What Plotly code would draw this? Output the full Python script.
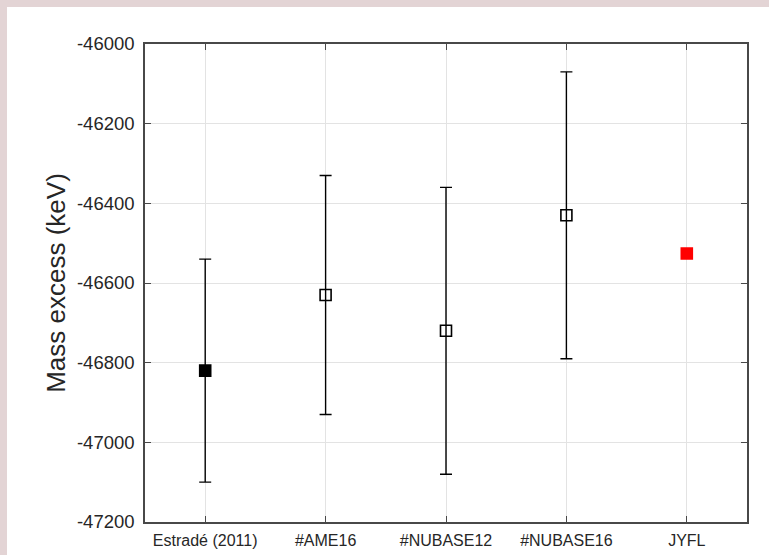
import plotly.graph_objects as go

categories = ["Estradé (2011)", "#AME16", "#NUBASE12", "#NUBASE16", "JYFL"]
mass_excess = [-46820, -46630, -46720, -46430, -46526]
uncertainty = [280, 300, 360, 360, 0]
symbols = ["square", "square-open", "square-open", "square-open", "square"]
colors = ["#000000", "#000000", "#000000", "#000000", "#ff0000"]
y_ticks = [-47200, -47000, -46800, -46600, -46400, -46200, -46000]
y_tick_labels = ["-47200", "-47000", "-46800", "-46600", "-46400", "-46200", "-46000"]

W, H = 769, 555
L, R, T, B = 145, 22, 44, 33
pw, ph = W - L - R, H - T - B

fig = go.Figure()
for i, cat in enumerate(categories):
    err = uncertainty[i]
    fig.add_trace(go.Scatter(
        x=[i], y=[mass_excess[i]], mode="markers", name=cat,
        marker=dict(symbol=symbols[i], size=11, color=colors[i],
                    line=dict(width=1.6, color=colors[i])),
        error_y=dict(type="data", array=[err], visible=err > 0,
                     color="#000000", thickness=1.4, width=6),
        showlegend=False,
    ))

# pinkish page border (left and top) behind a white page
fig.add_shape(type="rect", xref="paper", yref="paper",
              x0=(7 - L) / pw, x1=(W - L) / pw + 0.01,
              y0=-(B + 5) / ph, y1=(ph + T - 7) / ph,
              fillcolor="white", line=dict(width=0), layer="below")

axis_col = "#484848"
fig.update_layout(
    width=W, height=H,
    margin=dict(l=L, r=R, t=T, b=B, autoexpand=False),
    paper_bgcolor="#e3d4d5",
    plot_bgcolor="white",
    font=dict(family="Liberation Sans, Arial, sans-serif", color="#262626"),
    xaxis=dict(
        range=[-0.5, 4.5], tickmode="array",
        tickvals=list(range(len(categories))), ticktext=categories,
        showgrid=True, gridcolor="#e3e3e3", gridwidth=1,
        showline=True, linecolor=axis_col, linewidth=1.5, mirror="ticks",
        ticks="inside", ticklen=6, tickcolor=axis_col, tickwidth=1.2,
        tickfont=dict(size=16), ticklabelstandoff=3,
        zeroline=False, automargin=False,
    ),
    yaxis=dict(
        range=[-47200, -46000], tickmode="array",
        tickvals=y_ticks, ticktext=y_tick_labels,
        showgrid=True, gridcolor="#e3e3e3", gridwidth=1,
        showline=True, linecolor=axis_col, linewidth=1.5, mirror="ticks",
        ticks="inside", ticklen=6, tickcolor=axis_col, tickwidth=1.2,
        tickfont=dict(size=18.5), ticklabelstandoff=5,
        title=dict(text="Mass excess (keV)", font=dict(size=26), standoff=4),
        zeroline=False, automargin=False,
    ),
)

fig.write_html("out.html", config={"displayModeBar": False},
               post_script="document.body.style.margin='0';document.body.style.padding='0';")
